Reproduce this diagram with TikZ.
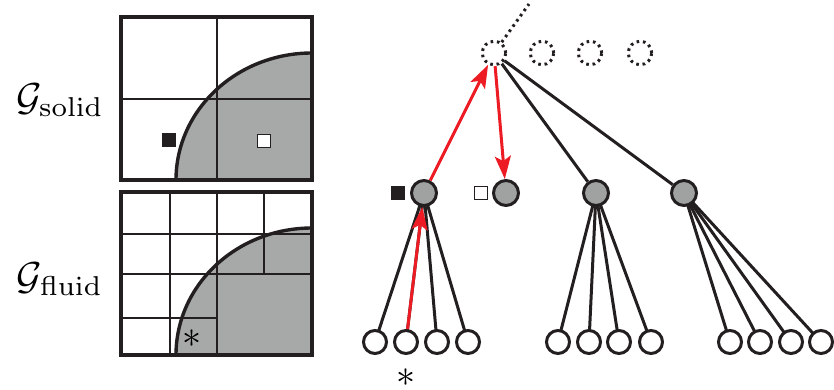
\documentclass[tikz,border=0pt]{standalone}
\usetikzlibrary{arrows.meta,backgrounds}
\definecolor{ink}{RGB}{35,31,32}
\definecolor{cellgray}{RGB}{167,169,169}
\definecolor{nodegray}{RGB}{160,162,162}
\definecolor{arrowred}{RGB}{237,28,36}
\begin{document}
\begin{tikzpicture}[x=1pt,y=-1pt,
  leaf/.style={circle,draw=ink,line width=3pt,fill=white,minimum size=23pt,inner sep=0pt},
  inner/.style={circle,draw=ink,line width=3pt,fill=nodegray,minimum size=25pt,inner sep=0pt},
  ghost/.style={circle,draw=ink,line width=3pt,dash pattern=on 2.6pt off 3.8pt,fill=white,minimum size=23.5pt,inner sep=0pt},
  treeedge/.style={draw=ink,line width=3pt},
  redarrow/.style={draw=arrowred,line width=3pt,-{Stealth[length=23pt,width=16pt,inset=5pt,fill=arrowred]}},
  outerbox/.style={draw=ink,line width=3.4pt},
  midline/.style={draw=ink,line width=2.5pt},
  fineline/.style={draw=ink,line width=1.7pt},
  boundary/.style={draw=ink,line width=3.4pt},
  marker/.style={minimum size=13pt,inner sep=0pt,draw=ink,line width=1.7pt},
  biglabel/.style={scale=3.9,inner sep=0pt},
  starlabel/.style={scale=3.8,inner sep=0pt}
]
\useasboundingbox (0,0) rectangle (834,390);

% ---------- solid grid ----------
\fill[cellgray] (176,180) arc[start angle=180,end angle=270,x radius=136,y radius=127] -- (312,180) -- cycle;
\draw[midline] (217,17) -- (217,180);
\draw[midline] (121,99) -- (312,99);
\draw[boundary] (176,180) arc[start angle=180,end angle=270,x radius=136,y radius=127];
\draw[outerbox] (121,17) rectangle (312,180);
\node[marker,fill=ink] (sq1) at (169,140) {};
\node[marker,fill=white] (sq2) at (264,141) {};
\node[biglabel] (gsolid) at (60,100) {$\mathcal{G}_{\mathrm{solid}}$};

% ---------- fluid grid ----------
\fill[cellgray] (176,355) arc[start angle=180,end angle=270,x radius=136,y radius=127] -- (312,355) -- cycle;
\draw[fineline] (170,192) -- (170,355);
\draw[fineline] (264,192) -- (264,274);
\draw[fineline] (121,234) -- (312,234);
\draw[fineline] (121,318) -- (217,318);
\draw[midline] (217,192) -- (217,355);
\draw[midline] (121,274) -- (312,274);
\draw[boundary] (176,355) arc[start angle=180,end angle=270,x radius=136,y radius=127];
\draw[outerbox] (121,192) rectangle (312,355);
\node[starlabel] (star1) at (192,339) {$\ast$};
\node[biglabel] (gfluid) at (60,279) {$\mathcal{G}_{\mathrm{fluid}}$};

% ---------- tree ----------
\node[ghost] (root) at (494,53) {};
\node[ghost] (g1) at (542,53) {};
\node[ghost] (g2) at (590,53) {};
\node[ghost] (g3) at (640,53) {};
\coordinate (up) at (529,4);
\draw[draw=ink,line width=3pt,dash pattern=on 2.6pt off 3.8pt] (root) -- (up);

\node[inner] (n1) at (424,193) {};
\node[inner] (n2) at (506,193) {};
\node[inner] (n3) at (596,193) {};
\node[inner] (n4) at (684,193) {};
\node[marker,fill=ink] (bsq) at (398,193) {};
\node[marker,fill=white] (wsq) at (481,193) {};

\foreach \i/\x in {1/375,2/406,3/437,4/468,5/558,6/589,7/619,8/651,9/730,10/760,11/791,12/821}
  \node[leaf] (l\i) at (\x,342) {};

\node[starlabel] (star2) at (406,378) {$\ast$};

\begin{pgfonlayer}{background}
  \foreach \i in {1,2,3,4} \draw[treeedge] (n1.center) -- (l\i.center);
  \foreach \i in {5,6,7,8} \draw[treeedge] (n3.center) -- (l\i.center);
  \foreach \i in {9,10,11,12} \draw[treeedge] (n4.center) -- (l\i.center);
\end{pgfonlayer}

\draw[treeedge] (root) -- (n3);
\draw[treeedge] (root) -- (n4);

\draw[redarrow] (n1) -- (root);
\draw[redarrow] (root) -- (n2);
\draw[redarrow] (l2) -- (n1);
\end{tikzpicture}
\end{document}
